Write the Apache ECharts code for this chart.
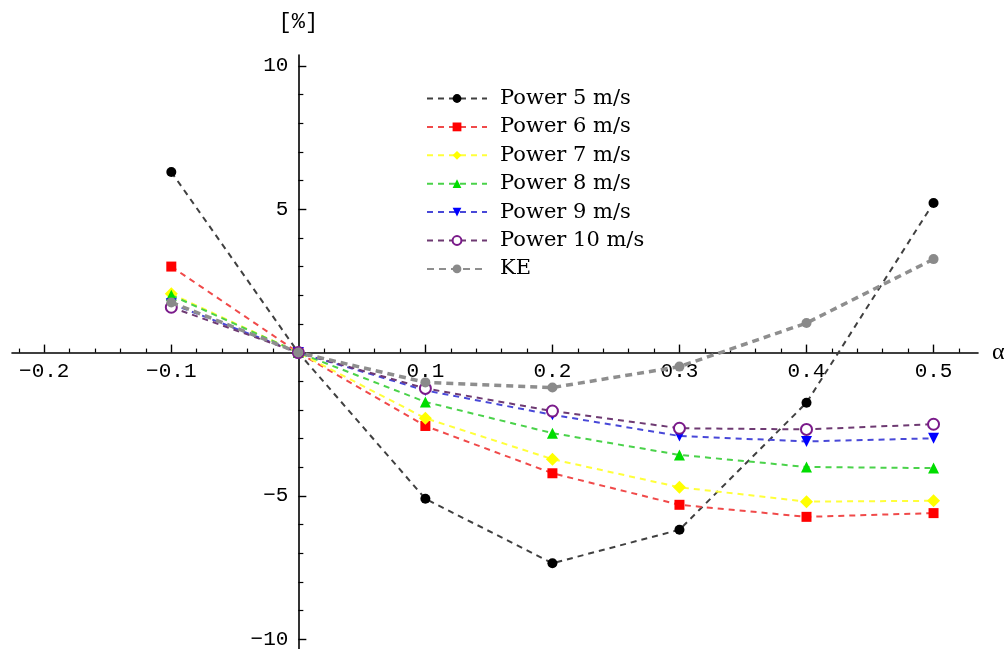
<!DOCTYPE html>
<html><head><meta charset="utf-8">
<script src="https://cdn.jsdelivr.net/npm/echarts@6/dist/echarts.min.js"></script>
<style>html,body{margin:0;padding:0;background:#fff}#c{width:1008px;height:649px}</style>
</head><body><div id="c"></div>
<script>
const alpha = [-0.1, 0, 0.1, 0.2, 0.3, 0.4, 0.5];
const power5 = [6.3, 0, -5.1, -7.35, -6.18, -1.75, 5.22];
const power6 = [3.0, 0, -2.56, -4.21, -5.31, -5.73, -5.6];
const power7 = [2.05, 0, -2.29, -3.72, -4.7, -5.2, -5.17];
const power8 = [2.0, 0, -1.72, -2.81, -3.57, -3.99, -4.03];
const power9 = [1.7, 0, -1.32, -2.17, -2.91, -3.1, -2.99];
const power10 = [1.58, 0, -1.25, -2.04, -2.64, -2.68, -2.5];
const ke = [1.75, 0, -1.04, -1.22, -0.49, 1.03, 3.26];

const seriesNames = ['Power 5 m/s', 'Power 6 m/s', 'Power 7 m/s', 'Power 8 m/s', 'Power 9 m/s', 'Power 10 m/s', 'KE'];

const xTickLabels = [-0.2, -0.1, 0.1, 0.2, 0.3, 0.4, 0.5];
const xMajorTicks = [-0.2, -0.1, 0.1, 0.2, 0.3, 0.4, 0.5];
const xMinorTicks = [-0.22, -0.18, -0.16, -0.14, -0.12, -0.08, -0.06, -0.04, -0.02, 0.02, 0.04, 0.06, 0.08,
  0.12, 0.14, 0.16, 0.18, 0.22, 0.24, 0.26, 0.28, 0.32, 0.34, 0.36, 0.38, 0.42, 0.44, 0.46, 0.48, 0.52];
const yTickLabels = [-10, -5, 5, 10];
const yMajorTicks = [-10, -5, 5, 10];
const yMinorTicks = [-9, -8, -7, -6, -4, -3, -2, -1, 1, 2, 3, 4, 6, 7, 8, 9];

const X_MIN = -0.2254, X_MAX = 0.535, Y_MIN = -10.34, Y_MAX = 10.38;
const W = 1008, H = 649;
const G = {left: 12, right: 30, top: 55, bottom: 0};
const gw = W - G.left - G.right, gh = H - G.top - G.bottom;
// axes cross at zero: shift them from the grid edges into the plot
const xAxisOffset = -(gh * (0 - Y_MIN) / (Y_MAX - Y_MIN));
const yAxisOffset = -(gw * (0 - X_MIN) / (X_MAX - X_MIN));

const tickFont = {fontFamily: '"Liberation Mono", monospace', fontSize: 21, color: '#000'};
const minus = v => String(v).replace('-', '\u2212');

function pairs(ys) { return alpha.map((a, i) => [a, ys[i]]); }

const styles = [
  {data: power5, symbol: 'circle', size: 10, color: '#000000', line: '#404040', width: 2, dash: [6, 5]},
  {data: power6, symbol: 'rect', size: 10, color: '#ff0000', line: '#f04a4a', width: 2, dash: [6, 5]},
  {data: power7, symbol: 'diamond', size: 13, color: '#ffff00', line: '#ffff3a', width: 2, dash: [6, 5]},
  {data: power8, symbol: 'triangle', size: 11, color: '#00dd00', line: '#4ad24a', width: 2, dash: [6, 5]},
  {data: power9, symbol: 'triangle', size: 11, color: '#0000ff', line: '#4848d8', width: 2, dash: [6, 5], rotate: 180},
  {data: power10, symbol: 'emptyCircle', size: 11, color: '#7a1a8a', line: '#6e3a72', width: 2, dash: [6, 5]},
  {data: ke, symbol: 'circle', size: 10, color: '#8a8a8a', line: '#8e8e8e', width: 3.5, dash: [7, 5]}
];

const series = styles.map((s, i) => ({
  name: seriesNames[i],
  type: 'line',
  xAxisIndex: 0, yAxisIndex: 0,
  data: pairs(s.data),
  symbol: s.symbol,
  symbolSize: s.size,
  symbolRotate: s.rotate || 0,
  showAllSymbol: true,
  itemStyle: {color: s.color, borderColor: s.color, borderWidth: s.symbol === 'emptyCircle' ? 2 : 0},
  lineStyle: {color: s.line, width: s.width, type: s.dash},
  emphasis: {disabled: true},
  z: 2 + i
}));

const chart = echarts.init(document.getElementById('c'), null, {renderer: 'canvas'});
chart.setOption({
  animation: false,
  backgroundColor: '#fff',
  grid: {left: G.left, right: G.right, top: G.top, bottom: G.bottom, containLabel: false, outerBoundsMode: 'none'},
  legend: {
    orient: 'vertical', left: 421, top: 82,
    itemWidth: 60, itemHeight: 11, itemGap: 5.4,
    textStyle: {fontFamily: '"DejaVu Serif", serif', fontSize: 21, lineHeight: 23, color: '#000', padding: [0, 0, 0, 8]},
    data: seriesNames,
    selectedMode: false
  },
  xAxis: [{
    type: 'value', min: X_MIN, max: X_MAX, position: 'bottom', offset: xAxisOffset,
    axisLine: {onZero: false, lineStyle: {color: '#000', width: 1.6}},
    axisTick: {show: true, inside: true, length: 8, customValues: xMajorTicks, lineStyle: {color: '#000', width: 1.4}},
    axisLabel: {show: true, margin: 8, customValues: xTickLabels, formatter: v => minus(v), ...tickFont},
    splitLine: {show: false},
    name: 'α', nameLocation: 'end', nameGap: 14,
    nameTextStyle: {fontFamily: '"Liberation Serif", serif', fontSize: 24, color: '#000', verticalAlign: 'middle'}
  }, {
    type: 'value', min: X_MIN, max: X_MAX, position: 'bottom', offset: xAxisOffset,
    axisLine: {show: false, onZero: false},
    axisTick: {show: true, inside: true, length: 4, customValues: xMinorTicks, lineStyle: {color: '#000', width: 1.2}},
    axisLabel: {show: false},
    splitLine: {show: false}
  }],
  yAxis: [{
    type: 'value', min: Y_MIN, max: Y_MAX, position: 'left', offset: yAxisOffset,
    axisLine: {onZero: false, lineStyle: {color: '#000', width: 1.6}},
    axisTick: {show: true, inside: true, length: 8, customValues: yMajorTicks, lineStyle: {color: '#000', width: 1.4}},
    axisLabel: {show: true, margin: 10, customValues: yTickLabels, formatter: v => minus(v), ...tickFont},
    splitLine: {show: false},
    name: '[%]', nameLocation: 'end', nameGap: 22,
    nameTextStyle: {fontFamily: '"Liberation Mono", monospace', fontSize: 22, color: '#000', align: 'center'}
  }, {
    type: 'value', min: Y_MIN, max: Y_MAX, position: 'left', offset: yAxisOffset,
    axisLine: {show: false, onZero: false},
    axisTick: {show: true, inside: true, length: 5, customValues: yMinorTicks, lineStyle: {color: '#000', width: 1.2}},
    axisLabel: {show: false},
    splitLine: {show: false}
  }],
  series: series
});
</script>
</body></html>
